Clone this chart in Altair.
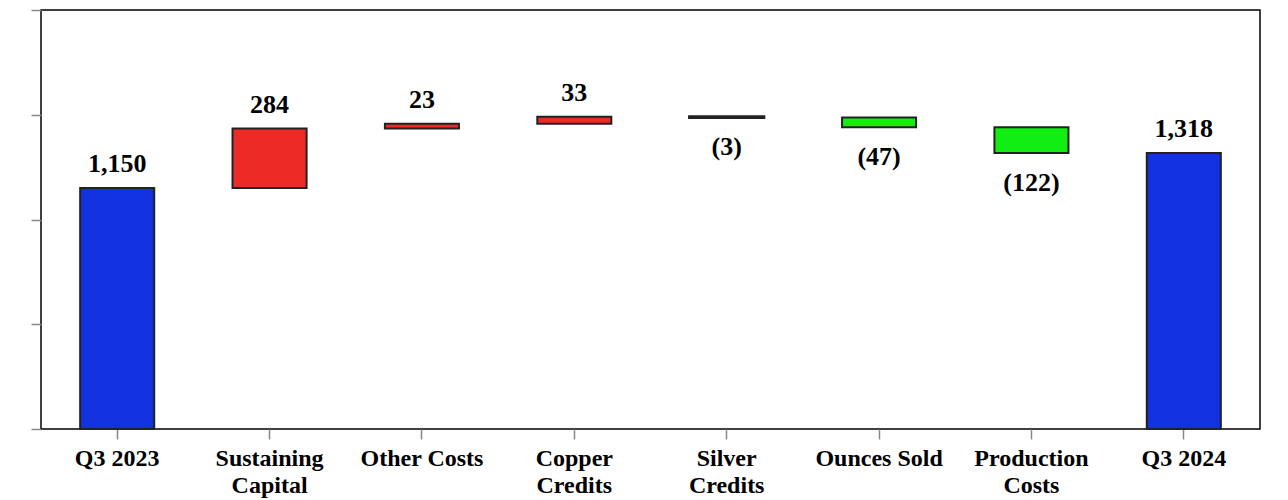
import altair as alt
import pandas as pd

categories = ["Q3 2023", "Sustaining\nCapital", "Other Costs", "Copper\nCredits",
              "Silver\nCredits", "Ounces Sold", "Production\nCosts", "Q3 2024"]
amounts = [1150, 284, 23, 33, -3, -47, -122, 1318]
kinds = ["total", "increase", "increase", "increase", "decrease", "decrease", "decrease", "total"]
y_ticks = [0, 500, 1000, 1500, 2000]

rows = []
running = 0
for cat, amt, kind in zip(categories, amounts, kinds):
    if kind == "total":
        start, end = 0, amt
        running = amt
    else:
        start, end = running, running + amt
        running = end
    if amt < 0:
        label = f"({abs(amt):,})"
    else:
        label = f"{amt:,}"
    rows.append({"cat": cat, "start": start, "end": end, "kind": kind,
                 "label": label, "top": max(start, end), "bottom": min(start, end),
                 "neg": amt < 0})
df = pd.DataFrame(rows)

FONT = "Liberation Serif"

x = alt.X("cat:N", sort=categories, title=None,
          scale=alt.Scale(paddingInner=0.514, paddingOuter=0.257),
          axis=alt.Axis(labelAngle=0, labelFont=FONT, labelFontWeight="bold",
                        labelFontSize=24, labelColor="black", labelLineHeight=27,
                        labelExpr="split(datum.label, '\\n')", labelPadding=7,
                        domain=False, ticks=True, tickColor="#888888", tickSize=10,
                        tickWidth=1.5, grid=False))
y_scale = alt.Scale(domain=[0, 2000], nice=False, zero=True)

base = alt.Chart(df)

bars = base.mark_bar(stroke="#222222").encode(
    x=x,
    y=alt.Y("start:Q", scale=y_scale, title=None,
            axis=alt.Axis(values=y_ticks, labels=False, domain=False, grid=False,
                          tickColor="#888888", tickSize=10, tickWidth=1.5)),
    y2="end:Q",
    color=alt.Color("kind:N", legend=None,
                    scale=alt.Scale(domain=["total", "increase", "decrease"],
                                    range=["#1232E0", "#EE2A26", "#11EE11"])),
    strokeWidth=alt.condition("abs(datum.end - datum.start) < 10",
                              alt.value(3.2), alt.value(2)),
)

pos_text = base.transform_filter("!datum.neg").mark_text(
    font=FONT, fontWeight="bold", fontSize=26, color="black",
    baseline="alphabetic", dy=-16).encode(
    x=alt.X("cat:N", sort=categories), y=alt.Y("top:Q", scale=y_scale), text="label:N")

neg_text = base.transform_filter("datum.neg").mark_text(
    font=FONT, fontWeight="bold", fontSize=26, color="black",
    baseline="top", dy=17).encode(
    x=alt.X("cat:N", sort=categories), y=alt.Y("bottom:Q", scale=y_scale), text="label:N")

chart = alt.layer(bars, pos_text, neg_text).properties(
    width=1219, height=419,
    autosize=alt.AutoSizeParams(type="none"),
    padding={"left": 41, "top": 10, "right": 28, "bottom": 71},
    background="white",
).configure_view(stroke="black", strokeWidth=1.5)

chart.save("out.html", embed_options={"renderer": "svg", "actions": False})
